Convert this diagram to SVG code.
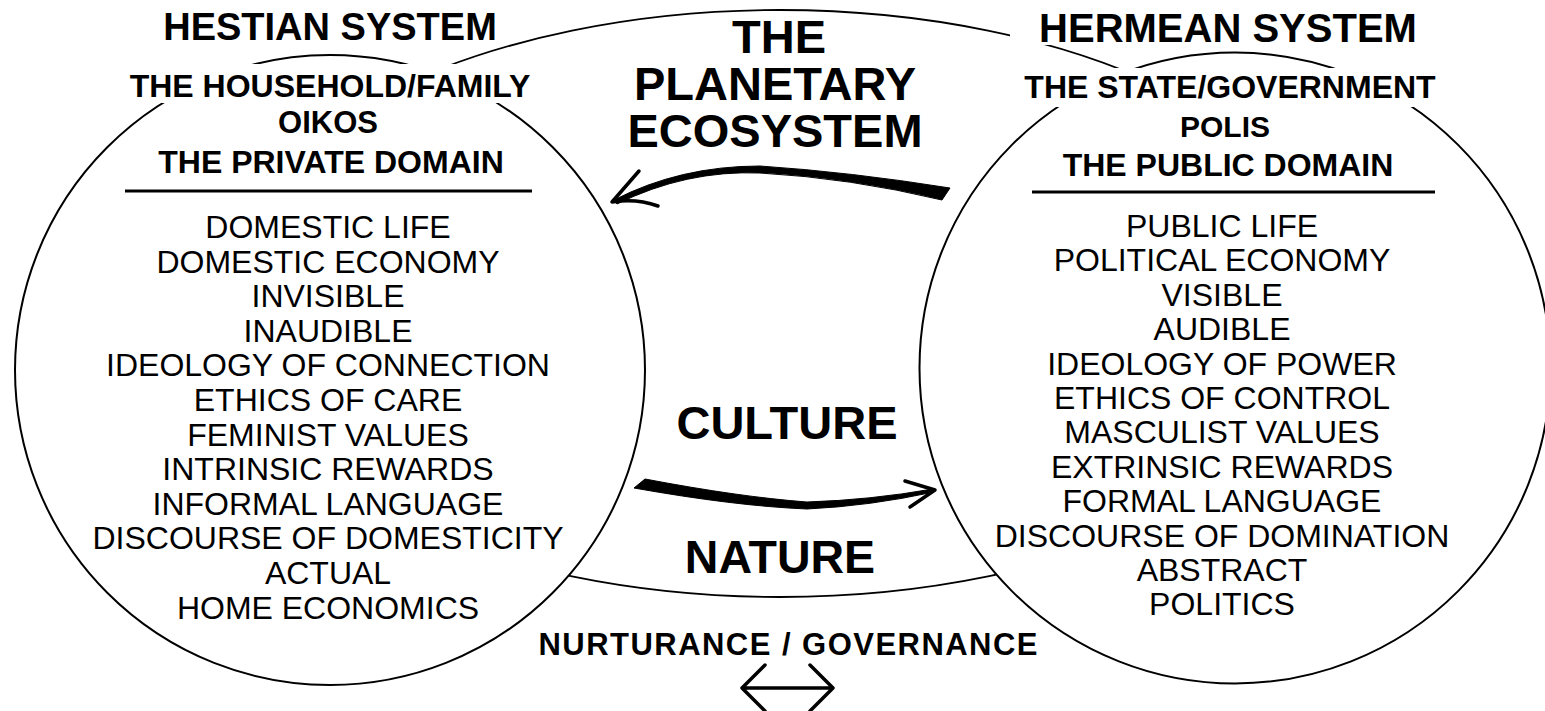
<svg xmlns="http://www.w3.org/2000/svg" width="1545" height="711" viewBox="0 0 1545 711">
<style>
.shape{fill:#fff;stroke:#000;stroke-width:2}
.oval{fill:none;stroke:#000;stroke-width:1.8}
.mask{fill:#fff;stroke:none}
.b{font-family:"Liberation Sans",Arial,Helvetica,sans-serif;font-weight:bold;text-anchor:middle;fill:#000}
.r{font-family:"Liberation Sans",Arial,Helvetica,sans-serif;font-size:32px;text-anchor:middle;fill:#000}
.rule{stroke:#000;stroke-width:3}
.body{fill:#000;stroke:#000;stroke-width:1;stroke-linejoin:round}
.head{fill:none;stroke:#000;stroke-width:3.5;stroke-linecap:round;stroke-linejoin:round}
</style>
<rect width="1545" height="711" fill="#fff"/>

<g id="planetary-ecosystem">
  <ellipse class="oval" cx="780" cy="303.5" rx="565" ry="293.5"/>
</g>

<g id="hestian-system">
  <circle class="shape" cx="330" cy="370" r="315"/>
  <rect class="mask" x="118" y="64" width="427" height="39"/>
  <text class="b" x="330" y="40" font-size="38">HESTIAN SYSTEM</text>
  <text class="b" x="330" y="97" font-size="32">THE HOUSEHOLD/FAMILY</text>
  <text class="b" x="328" y="133" font-size="31">OIKOS</text>
  <text class="b" x="331" y="173" font-size="32">THE PRIVATE DOMAIN</text>
  <line class="rule" x1="125" y1="191" x2="532" y2="191"/>
  <text class="r" x="328" y="238">DOMESTIC LIFE</text>
  <text class="r" x="328" y="272.6">DOMESTIC ECONOMY</text>
  <text class="r" x="328" y="307.2">INVISIBLE</text>
  <text class="r" x="328" y="341.8">INAUDIBLE</text>
  <text class="r" x="328" y="376.4">IDEOLOGY OF CONNECTION</text>
  <text class="r" x="328" y="411">ETHICS OF CARE</text>
  <text class="r" x="328" y="445.6">FEMINIST VALUES</text>
  <text class="r" x="328" y="480.2">INTRINSIC REWARDS</text>
  <text class="r" x="328" y="514.8">INFORMAL LANGUAGE</text>
  <text class="r" x="328" y="549.4">DISCOURSE OF DOMESTICITY</text>
  <text class="r" x="328" y="584">ACTUAL</text>
  <text class="r" x="328" y="618.6">HOME ECONOMICS</text>
</g>

<g id="hermean-system">
  <circle class="shape" cx="1235" cy="368" r="315.5"/>
  <rect class="mask" x="1010" y="8" width="420" height="37"/>
  <rect class="mask" x="1012" y="68" width="436" height="39"/>
  <text class="b" x="1228" y="42" font-size="40">HERMEAN SYSTEM</text>
  <text class="b" x="1230" y="98" font-size="32">THE STATE/GOVERNMENT</text>
  <text class="b" x="1225" y="137" font-size="30">POLIS</text>
  <text class="b" x="1228" y="176" font-size="32">THE PUBLIC DOMAIN</text>
  <line class="rule" x1="1032" y1="192" x2="1435" y2="192"/>
  <text class="r" x="1222" y="237">PUBLIC LIFE</text>
  <text class="r" x="1222" y="271.4">POLITICAL ECONOMY</text>
  <text class="r" x="1222" y="305.8">VISIBLE</text>
  <text class="r" x="1222" y="340.2">AUDIBLE</text>
  <text class="r" x="1222" y="374.6">IDEOLOGY OF POWER</text>
  <text class="r" x="1222" y="409">ETHICS OF CONTROL</text>
  <text class="r" x="1222" y="443.4">MASCULIST VALUES</text>
  <text class="r" x="1222" y="477.8">EXTRINSIC REWARDS</text>
  <text class="r" x="1222" y="512.2">FORMAL LANGUAGE</text>
  <text class="r" x="1222" y="546.6">DISCOURSE OF DOMINATION</text>
  <text class="r" x="1222" y="581">ABSTRACT</text>
  <text class="r" x="1222" y="615.4">POLITICS</text>
</g>

<g id="planetary-labels">
  <text class="b" x="779" y="53" font-size="47">THE</text>
  <text class="b" x="775" y="100" font-size="47">PLANETARY</text>
  <text class="b" x="775" y="147" font-size="47">ECOSYSTEM</text>
  <text class="b" x="787" y="439" font-size="47">CULTURE</text>
  <text class="b" x="780" y="573" font-size="46.5">NATURE</text>
</g>

<g id="nurturance-governance">
  <text class="b" x="788" y="655" font-size="31" textLength="499" lengthAdjust="spacing">NURTURANCE / GOVERNANCE</text>
</g>

<g id="connectors">
  <path class="body" d="M 950 188 Q 850 172 760 166 Q 680 166 614 200 L 617 204 Q 686 170 760 173 Q 850 178 942 200 Z"/>
  <path class="head" d="M 639 171 L 612 202 Q 636 198 658 206"/>
  <path class="body" d="M 645 479 Q 740 497 807 502 Q 870 500 933 489 L 934 492 Q 870 506 807 509 Q 735 506 634 488 Z"/>
  <path class="head" d="M 905 481 L 935 490 L 910 507"/>
  <path class="head" d="M 742 688 L 833 688 M 765 665 L 742 688 L 765 711 M 810 665 L 833 688 L 810 711"/>
</g>
</svg>
